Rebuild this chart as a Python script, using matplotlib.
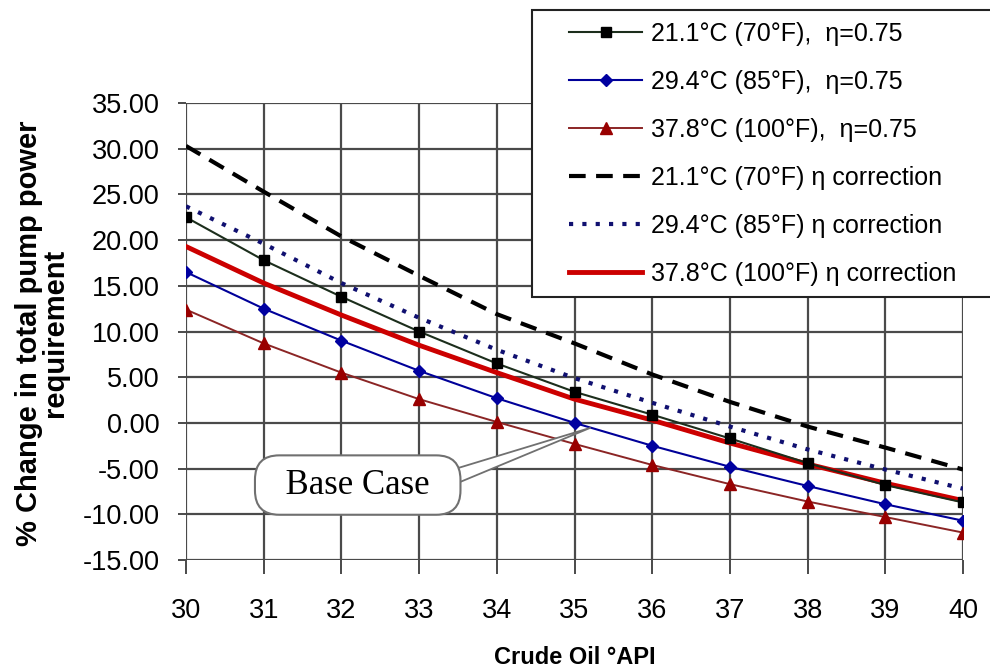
#!/usr/bin/env python3
"""
Pump power requirement change versus crude oil API gravity at three temperatures.
"""

import matplotlib
matplotlib.use("Agg")
import matplotlib.pyplot as plt
from matplotlib.legend_handler import HandlerLine2D
from matplotlib.lines import Line2D

api = [30, 31, 32, 33, 34, 35, 36, 37, 38, 39, 40]

# fixed pump efficiency (eta = 0.75)
t70_fixed = [22.5, 17.8, 13.8, 10.0, 6.5, 3.4, 0.9, -1.7, -4.4, -6.8, -8.7]
t85_fixed = [16.5, 12.5, 9.0, 5.7, 2.7, 0.0, -2.5, -4.8, -6.9, -8.9, -10.7]
t100_fixed = [12.4, 8.7, 5.5, 2.6, 0.1, -2.3, -4.6, -6.7, -8.6, -10.3, -12.0]

# efficiency-corrected curves
t70_corr = [30.3, 25.3, 20.4, 16.1, 11.9, 8.7, 5.3, 2.3, -0.4, -2.7, -5.1]
t85_corr = [23.7, 19.6, 15.3, 11.5, 8.0, 4.9, 2.2, -0.4, -2.9, -5.1, -7.2]
t100_corr = [19.3, 15.3, 11.8, 8.5, 5.5, 2.6, 0.3, -2.2, -4.5, -6.6, -8.5]

labels = [
    "21.1°C (70°F),  η=0.75",
    "29.4°C (85°F),  η=0.75",
    "37.8°C (100°F),  η=0.75",
    "21.1°C (70°F) η correction",
    "29.4°C (85°F) η correction",
    "37.8°C (100°F) η correction",
]

yticks = [35, 30, 25, 20, 15, 10, 5, 0, -5, -10, -15]

plt.rcParams["font.family"] = ["Liberation Sans", "DejaVu Sans"]

fig = plt.figure(figsize=(9.9, 6.71), dpi=100)
ax = fig.add_axes([186 / 990, 1 - 560 / 671, (963 - 186) / 990, (560 - 103) / 671])

ax.plot(api, t70_fixed, color="#1c2e1c", lw=1.5, marker="s", ms=7,
        mfc="black", mec="black", label=labels[0], zorder=4)
ax.plot(api, t85_fixed, color="#000099", lw=1.5, marker="D", ms=6,
        mfc="#0000a0", mec="#0000a0", label=labels[1], zorder=4)
ax.plot(api, t100_fixed, color="#8b2525", lw=1.4, marker="^", ms=8,
        mfc="#990000", mec="#990000", label=labels[2], zorder=4)
ax.plot(api, t70_corr, color="black", lw=3, ls=(0, (4, 2.5)),
        label=labels[3], zorder=3)
ax.plot(api, t85_corr, color="#101070", lw=3, ls=(0, (1, 2.2)),
        label=labels[4], zorder=3)
ax.plot(api, t100_corr, color="#cc0000", lw=3.5, label=labels[5], zorder=3)

ax.set_xlim(30, 40)
ax.set_ylim(-15, 35)
ax.set_xticks(api)
ax.set_yticks(yticks)
ax.set_yticklabels([f"{v:.2f}" for v in yticks])
ax.grid(True, color="#4a4a4a", lw=1.6)
ax.set_axisbelow(True)
for side in ["top", "right", "left", "bottom"]:
    ax.spines[side].set_visible(False)
ax.tick_params(axis="both", labelsize=19.5, width=1.4, color="#4a4a4a",
               direction="out")
ax.tick_params(axis="y", length=6, pad=13)
ax.tick_params(axis="x", length=10, pad=17)

ax.set_xlabel("Crude Oil °API", fontsize=17, fontweight="bold", labelpad=16)
fig.text(42 / 990, 1 - 333 / 671, "% Change in total pump power\nrequirement",
         rotation=90, ha="center", va="center", multialignment="center",
         fontsize=21, fontweight="bold", linespacing=0.95)

# callout pointing at the base-case point
ax.annotate("  Base Case  ", xy=(35.2, -0.55), xytext=(32.21, -6.8),
            fontsize=25, family=["Liberation Serif", "DejaVu Serif"],
            ha="center", va="center", zorder=6,
            bbox=dict(boxstyle="round,pad=0.38,rounding_size=0.7",
                      fc="white", ec="#707070", lw=1.5),
            arrowprops=dict(arrowstyle="wedge,tail_width=0.45,shrink_factor=0.5",
                            relpos=(0.97, 0.62), patchA=None, shrinkA=0, shrinkB=0,
                            fc="white", ec="#707070", lw=1.3))

leg = fig.legend(loc="upper left", bbox_to_anchor=(532 / 990, 1 - 17 / 671, 480 / 990, 0.01),
                 mode="expand", borderaxespad=0, fontsize=18, handlelength=3.95,
                 labelspacing=0.96, borderpad=0.45, handletextpad=0.35, fancybox=False,
                 framealpha=1, edgecolor="#222222",
                 handler_map={Line2D: HandlerLine2D(xpad=1.04)})
leg.get_frame().set_linewidth(1.5)

fig.savefig("out.png", dpi=100)
